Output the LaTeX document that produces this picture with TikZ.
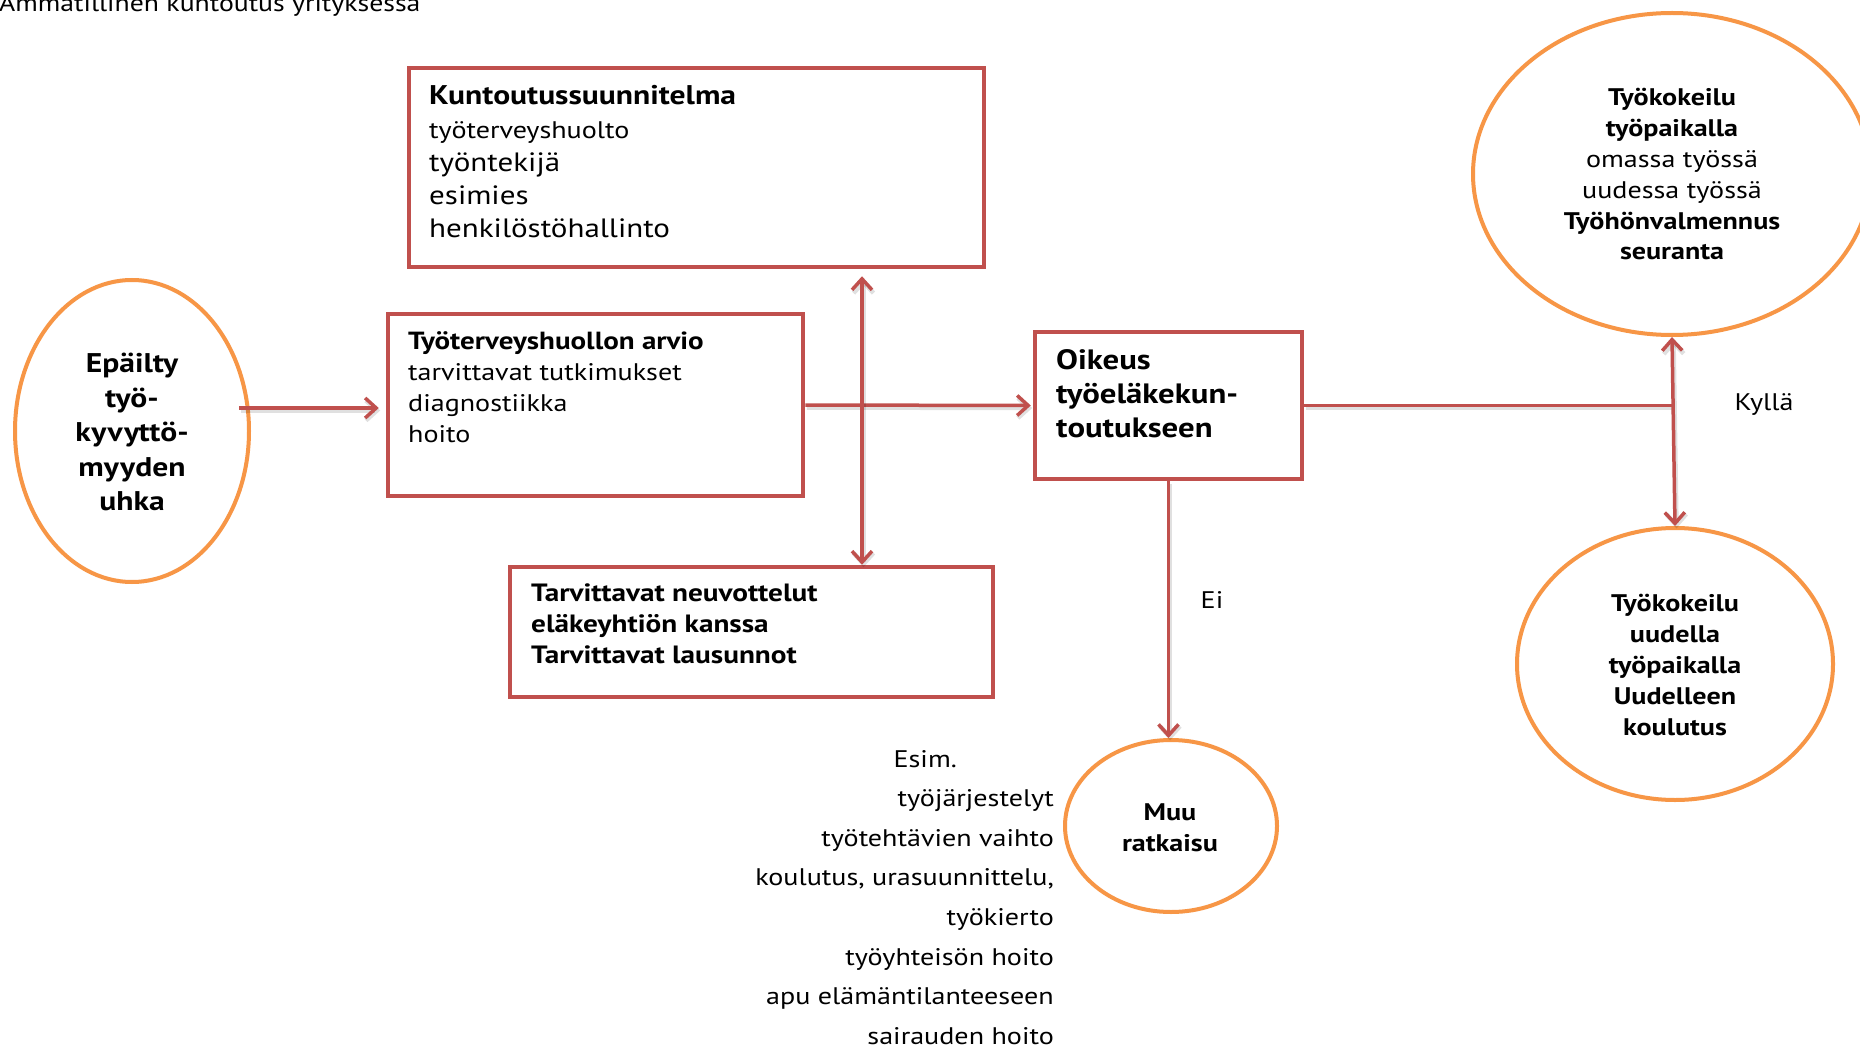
\documentclass[tikz,border=0pt]{standalone}
\usepackage{fontspec}
\setmainfont{PT Sans}[FakeStretch=1.17]
\usetikzlibrary{arrows.meta,shapes.geometric,calc}
\definecolor{boxred}{HTML}{C0504D}
\definecolor{ovalorange}{HTML}{F79646}
% a block of lines: column type, font size, baseline skip, lines
\newcommand\txtlines[4]{\fontsize{#2}{#3}\selectfont\begin{tabular}[t]{@{}#1@{}}#4\end{tabular}}
\begin{document}
\begin{tikzpicture}[x=1pt,y=-1pt,
  box/.style={draw=boxred, line width=4.5pt, rectangle, inner sep=0pt, fill=white},
  oval/.style={draw=ovalorange, line width=4pt, ellipse, inner sep=0pt, fill=white},
  conn/.style={draw=boxred, line width=3.5pt,
    preaction={draw=black, opacity=0.12, line width=4.5pt,
      transform canvas={shift={(1.5pt,-2.5pt)}}}},
  tip/.style={-{Straight Barb[length=11pt,width=20pt]}},
  both/.style={{Straight Barb[length=11pt,width=20pt]}-{Straight Barb[length=11pt,width=20pt]}},
  txt/.style={inner sep=0pt, text=black}]
\useasboundingbox (0,0) rectangle (1860,1048);
\fill[white] (0,0) rectangle (1860,1048);
\clip (0,0) rectangle (1860,1048);

% title
\node[txt, anchor=base west] (title) at (-1,12) {\fontsize{23.7}{29}\selectfont Ammatillinen kuntoutus yrityksessä};

% boxes
\node[box, minimum width=575pt, minimum height=199pt] (b1) at (696.5,167.5) {};
\node[box, minimum width=415pt, minimum height=182pt] (b2) at (595.5,405) {};
\node[box, minimum width=483pt, minimum height=130pt] (b3) at (751.5,632) {};
\node[box, minimum width=267pt, minimum height=147pt] (b4) at (1168.5,405.5) {};

% ovals
\node[oval, minimum width=234pt, minimum height=302pt] (e1) at (132,431) {};
\node[oval, minimum width=398pt, minimum height=322pt] (e2) at (1672,174) {};
\node[oval, minimum width=316pt, minimum height=272pt] (e3) at (1675,664) {};
\node[oval, minimum width=212pt, minimum height=172pt] (e4) at (1171,826) {};

% texts
\node[txt, anchor=base west] (t1) at (429,105) {\txtlines{l}{26.5}{33.2}{{\fontsize{27}{33.2}\selectfont\bfseries Kuntoutussuunnitelma}\\
  {\fontsize{24}{33.2}\selectfont työterveyshuolto}\\ työntekijä\\ esimies\\ henkilöstöhallinto}};
\node[txt, anchor=base west] (t2) at (408,350) {\txtlines{l}{24}{30.8}{{\fontsize{24.8}{30.8}\selectfont\bfseries Työterveyshuollon arvio}\\
  tarvittavat tutkimukset\\ diagnostiikka\\ hoito}};
\node[txt, anchor=base west] (t3) at (531,601) {\txtlines{l}{25}{31}{\bfseries Tarvittavat neuvottelut\\
  \bfseries eläkeyhtiön kanssa\\ \bfseries Tarvittavat lausunnot}};
\node[txt, anchor=base west] (t4) at (1056,370) {\txtlines{l}{28}{34}{\bfseries Oikeus\\
  \bfseries työeläkekun-\\ \bfseries toutukseen}};
\node[txt, anchor=base] (t5) at (132,373) {\txtlines{c}{27}{34.5}{\bfseries Epäilty\\ \bfseries työ-\\
  \bfseries kyvyttö-\\ \bfseries myyden\\ \bfseries uhka}};
\node[txt, anchor=base] (t6) at (1672,106) {\txtlines{c}{24}{30.8}{\textbf{Työkokeilu}\\ \textbf{työpaikalla}\\
  omassa työssä\\ uudessa työssä\\ \textbf{Työhönvalmennus}\\ \textbf{seuranta}}};
\node[txt, anchor=base] (t7) at (1675,611) {\txtlines{c}{24}{31}{\bfseries Työkokeilu\\ \bfseries uudella\\
  \bfseries työpaikalla\\ \bfseries Uudelleen\\ \bfseries koulutus}};
\node[txt, anchor=base] (t8) at (1170,820) {\txtlines{c}{24}{31}{\bfseries Muu\\ \bfseries ratkaisu}};
\node[txt, anchor=base east] (t9) at (1054,767) {\txtlines{r}{24}{39.6}{Esim.\hspace*{97pt}\\
  työjärjestelyt\\ työtehtävien vaihto\\ koulutus, urasuunnittelu,\\ työkierto\\
  työyhteisön hoito\\ apu elämäntilanteeseen\\ sairauden hoito}};
\node[txt, anchor=base] (yes) at (1764,410) {\fontsize{24}{29}\selectfont Kyllä};
\node[txt, anchor=base] (no) at (1212,608) {\fontsize{24}{29}\selectfont Ei};

% connectors
\coordinate (vx) at (862,0);
\draw[conn, tip, shorten >=7pt] ($(e1.east|-b2.west)+(-12,3)$) -- ($(b2.west)+(0,3)$);
\draw[conn, tip, shorten >=2pt] (b2.east) -- (b4.west);
\draw[conn, both, shorten <=7pt] (b1.south -| vx) -- (b3.north -| vx);
\draw[conn] (b4.east) -- (b4.east -| e2.south);
\draw[conn, both] (e2.south) -- (e3.north);
\draw[conn, tip] (b4.south) -- (b4.south |- e4.north);
\end{tikzpicture}
\end{document}
